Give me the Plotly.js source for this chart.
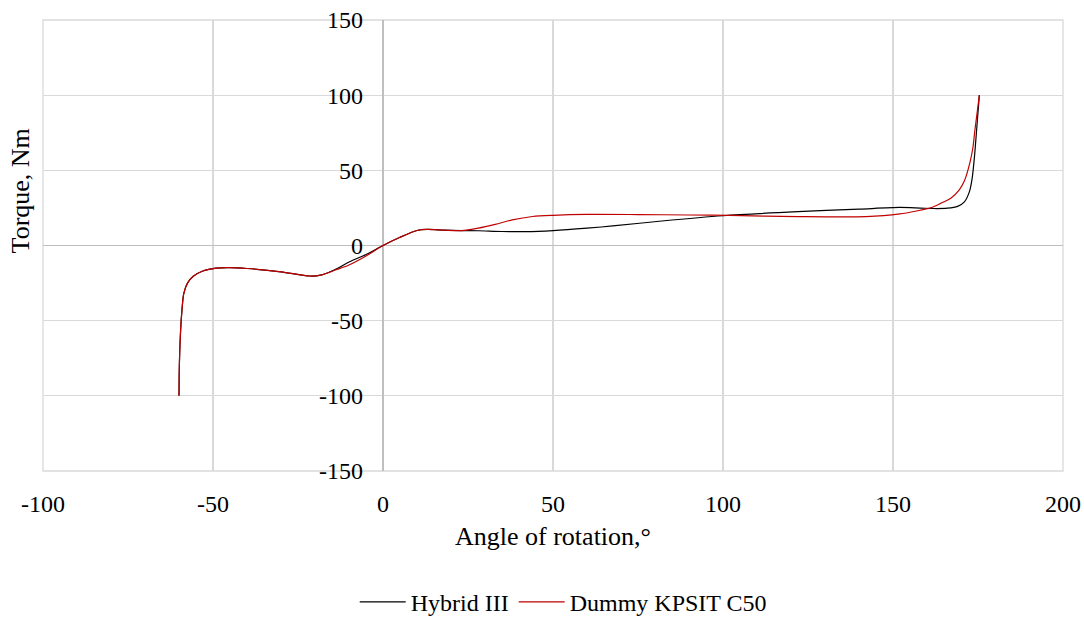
<!DOCTYPE html>
<html>
<head>
<meta charset="utf-8">
<script src="https://cdn.plot.ly/plotly-3.0.1.min.js"></script>
<style>
html,body{margin:0;padding:0;background:#fff;}
#chart{width:1084px;height:617px;}
</style>
</head>
<body>
<div id="chart"></div>
<script>
// Hybrid III
var hybridX = [-60, -59.9, -59.6, -59.2, -58.6, -57.5, -55.8, -53, -49, -45, -40, -30, -21.5, -18, -13.6, -10, -5, 0, 5, 10, 13, 18, 23, 28, 35, 42, 50, 60, 67.6, 82, 100, 122, 140, 152, 158, 162, 166, 169, 171, 172.5, 173.3, 174, 174.7, 175.4];
var hybridY = [-100, -80, -60, -45, -32, -25, -20.5, -17, -15, -14.7, -15.3, -17.5, -20.3, -19.5, -15.5, -11, -6, 0, 5.5, 10, 10.7, 10.2, 9.9, 9.8, 9.3, 9.2, 9.9, 11.5, 13, 16.3, 19.8, 22.5, 24.2, 25.3, 24.9, 24.6, 24.8, 26, 29, 36, 45, 60, 80, 100];
// Dummy KPSIT C50
var kpsitX = [-60, -59.9, -59.6, -59.2, -58.6, -57.5, -55.8, -53, -49, -45, -40, -30, -21.5, -18, -13.6, -10, -5, 0, 5, 10, 13, 18, 23, 28, 33, 38, 44, 50, 60, 75, 90, 102, 122, 142, 152, 157, 161, 164, 167, 169.5, 171, 172.6, 173.5, 174.1, 175.4];
var kpsitY = [-100, -80, -60, -45, -32, -25, -20.5, -17, -15, -14.7, -15.3, -17.5, -20.3, -19.5, -16, -13, -7, 0, 5.5, 10, 10.7, 10.2, 9.9, 11.5, 14, 17, 19.3, 20.1, 20.7, 20.6, 20.3, 20, 19.2, 19.2, 21, 23, 25, 28, 31.5, 37, 43, 55, 65, 77, 100];

var seriesNames = ['Hybrid III', 'Dummy KPSIT C50'];
var xTicks = [-100, -50, 0, 50, 100, 150, 200];
var yTicks = [-150, -100, -50, 0, 50, 100, 150];

var font = 'Liberation Serif';

var traces = [
  {x: hybridX, y: hybridY, name: seriesNames[0], mode: 'lines',
   line: {color: '#000000', width: 1.2, shape: 'spline', smoothing: 0.8}},
  {x: kpsitX, y: kpsitY, name: seriesNames[1], mode: 'lines',
   line: {color: '#c00000', width: 1.2, shape: 'spline', smoothing: 0.8}}
];

var layout = {
  width: 1084, height: 617,
  margin: {l: 43, r: 21, t: 20, b: 146},
  paper_bgcolor: '#ffffff', plot_bgcolor: '#ffffff',
  font: {family: font, size: 24, color: '#000000'},
  showlegend: true,
  legend: {orientation: 'h', x: 0.51, xanchor: 'center', yref: 'container', y: 0.024, yanchor: 'middle',
           itemwidth: 46, font: {family: font, size: 24, color: '#000'}},
  xaxis: {
    range: [-100, 200], tickvals: xTicks, ticktext: xTicks.map(String),
    showgrid: true, gridcolor: '#d9d9d9', gridwidth: 1.3,
    zeroline: true, zerolinecolor: '#bfbfbf', zerolinewidth: 1.5,
    showline: false, ticks: '', ticklabelstandoff: 16, automargin: false,
    tickfont: {family: font, size: 24, color: '#000'},
    title: {text: 'Angle of rotation,°', font: {family: font, size: 26}, standoff: 10}
  },
  yaxis: {
    range: [-150, 150], tickvals: yTicks, ticktext: yTicks.map(String),
    anchor: 'free', position: 1/3,
    showgrid: true, gridcolor: '#d9d9d9', gridwidth: 1.3,
    zeroline: true, zerolinecolor: '#bfbfbf', zerolinewidth: 1.5,
    showline: false, ticks: '', ticklabelstandoff: 20, automargin: false,
    tickfont: {family: font, size: 24, color: '#000'}
  },
  shapes: [
    {type: 'rect', xref: 'paper', yref: 'paper', x0: 0, x1: 1, y0: 0, y1: 1,
     line: {color: '#d9d9d9', width: 1.3}, layer: 'below'}
  ],
  annotations: [
    {text: 'Torque, Nm', xref: 'paper', yref: 'paper', x: -0.0225, y: 0.62,
     xanchor: 'center', yanchor: 'middle', textangle: -90, showarrow: false,
     font: {family: font, size: 26, color: '#000'}}
  ]
};

Plotly.newPlot('chart', traces, layout, {displayModeBar: false, staticPlot: true});
</script>
</body>
</html>
